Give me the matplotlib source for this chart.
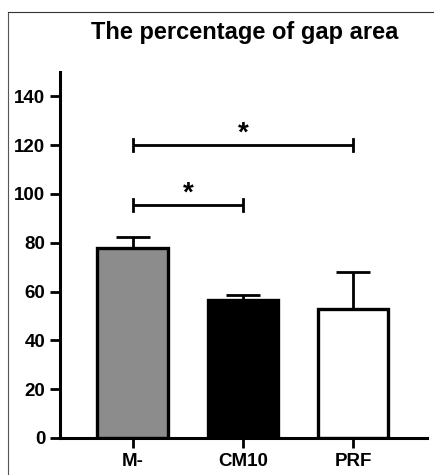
import matplotlib.pyplot as plt
from matplotlib.lines import Line2D

plt.rcParams['font.family'] = ['Liberation Sans', 'DejaVu Sans']

# Data
groups = ["M-", "CM10", "PRF"]
means = [78.0, 56.7, 53.0]
errors = [4.5, 2.0, 15.2]
colors = ["#8c8c8c", "#000000", "#ffffff"]

# significance brackets: (left group, right group, height)
brackets = [(0, 2, 120), (0, 1, 95.5)]

fig = plt.figure(figsize=(4.34, 4.75), dpi=100)
ax = fig.add_axes([60 / 434, 37 / 475, 367 / 434, 366 / 475])

x = list(range(len(groups)))
ax.bar(x, means, width=0.64, color=colors, edgecolor="black", linewidth=2.4, zorder=2)
ax.errorbar(x, means, yerr=[[0] * 3, errors], fmt="none", ecolor="black",
            elinewidth=2, capsize=12, capthick=2, zorder=1)

for a, b, h in brackets:
    ax.plot([a, b], [h, h], color="black", lw=2, solid_capstyle="butt")
    ax.plot([a, a], [h - 2.5, h + 2.5], color="black", lw=2)
    ax.plot([b, b], [h - 2.5, h + 2.5], color="black", lw=2)
    ax.text((a + b) / 2, h - 0.5, "*", ha="center", va="bottom",
            fontsize=20, fontweight="bold")

ax.set_xlim(-0.66, 2.67)
ax.set_ylim(0, 150)
ax.set_yticks(range(0, 141, 20))
ax.set_xticks(x)
ax.set_xticklabels(groups)

for s in ["top", "right"]:
    ax.spines[s].set_visible(False)
for s in ["left", "bottom"]:
    ax.spines[s].set_linewidth(2.2)

ax.tick_params(width=2, length=7, labelsize=13.5)
ax.tick_params(axis="x", pad=4)
for lab in ax.get_xticklabels() + ax.get_yticklabels():
    lab.set_fontweight("bold")

fig.text(245 / 434, 1 - 33 / 475, "The percentage of gap area", ha="center", va="center",
         fontsize=17, fontweight="bold")

# frame lines around the figure
fig.add_artist(Line2D([8 / 434, 8 / 434], [0, 1 - 12 / 475], color="#555555", lw=0.8))
fig.add_artist(Line2D([8 / 434, 1], [1 - 12 / 475, 1 - 12 / 475], color="#333333", lw=0.8))

fig.savefig("out.png", dpi=100)
